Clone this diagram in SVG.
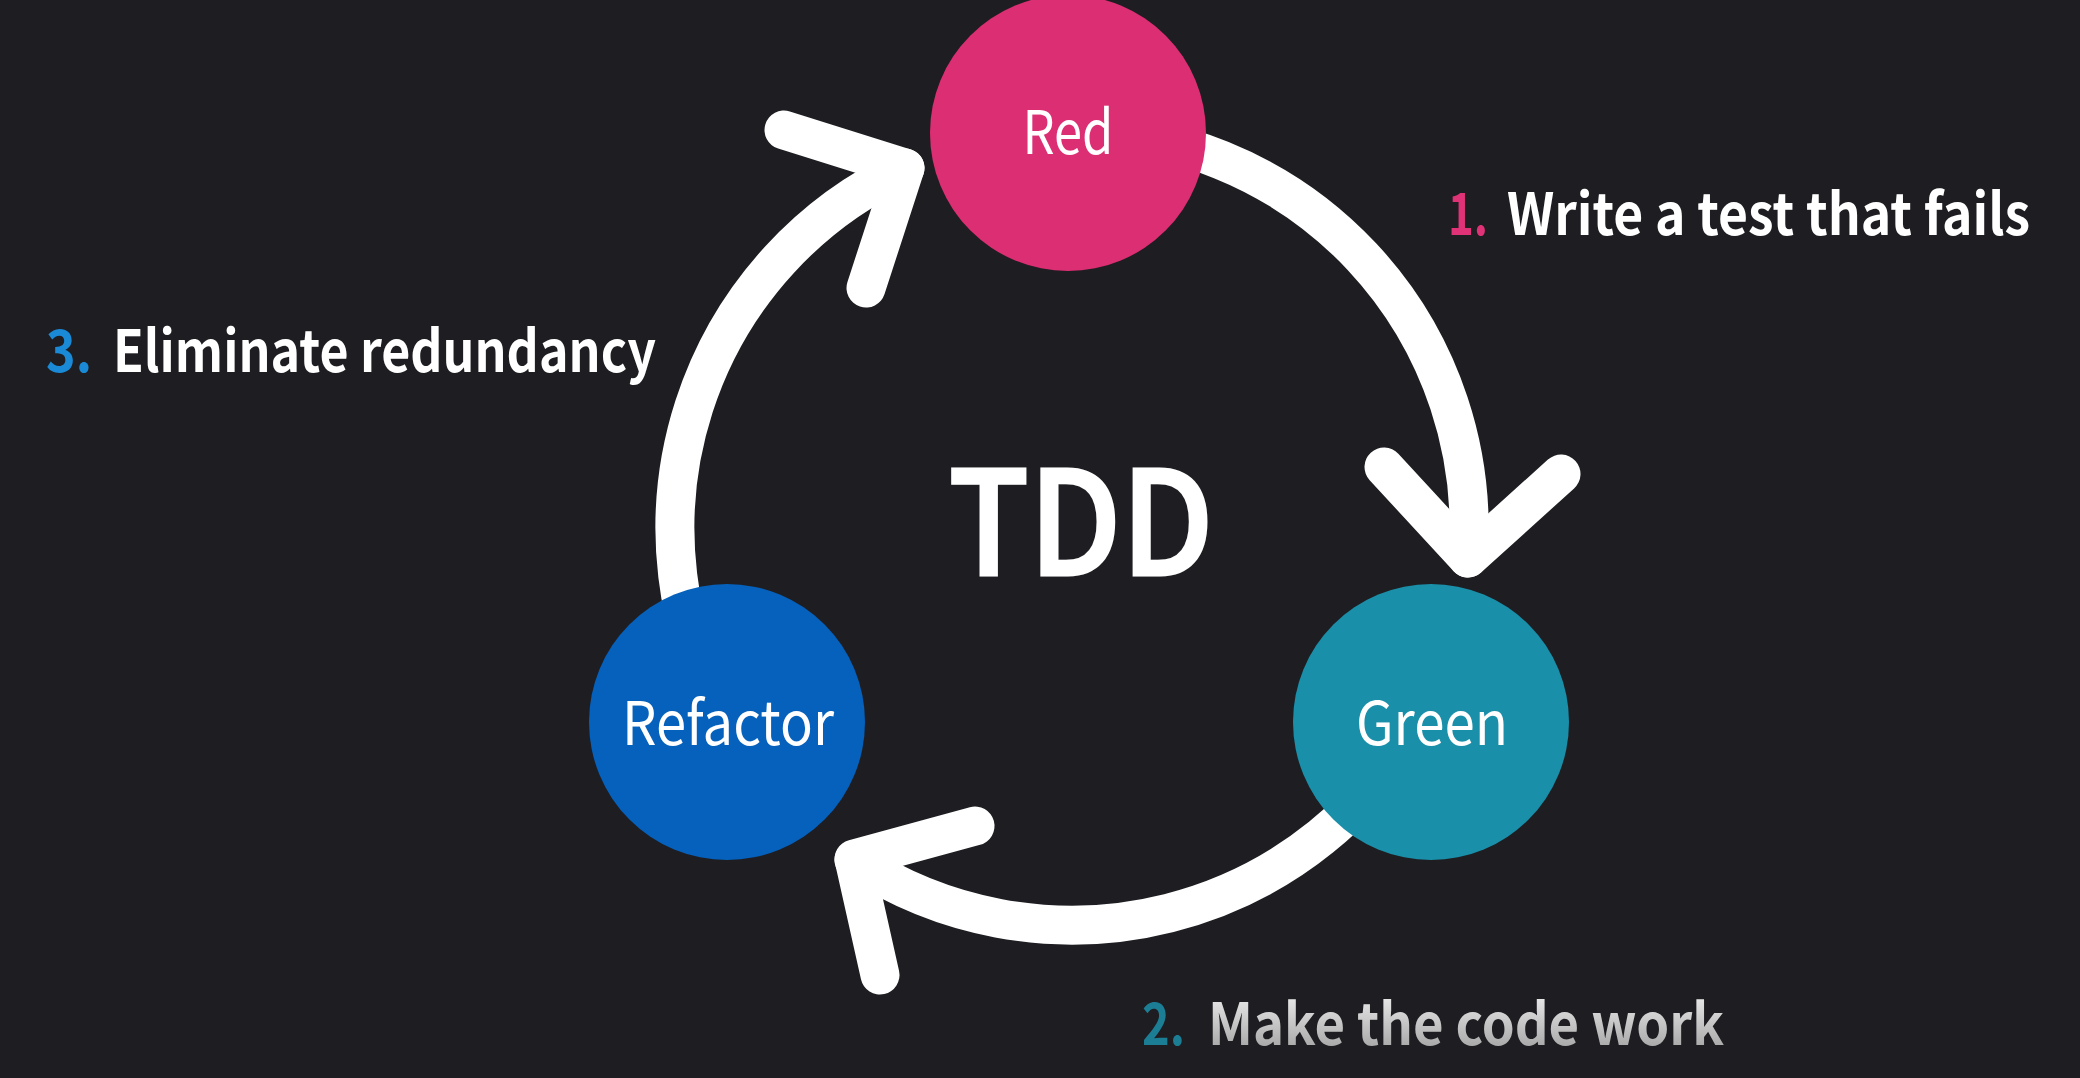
<svg xmlns="http://www.w3.org/2000/svg" width="2080" height="1078" viewBox="0 0 2080 1078">
  <defs>
    <style>
      .arc { fill: none; stroke: #ffffff; stroke-width: 39; stroke-linecap: round; stroke-linejoin: round; }
      .lbl { font-family: "Noto Sans CJK KR", "Noto Sans", sans-serif; fill: #ffffff; font-size: 60px; }
      .step { font-family: "Noto Sans CJK KR", "Noto Sans", sans-serif; font-weight: 700; font-size: 58px; fill: #ffffff; }
    </style>
    <linearGradient id="grayText" x1="0" y1="998" x2="0" y2="1048" gradientUnits="userSpaceOnUse">
      <stop offset="0" stop-color="#e6e6e6"/>
      <stop offset="1" stop-color="#a8a8a8"/>
    </linearGradient>
  </defs>
  <rect width="2080" height="1078" fill="#1e1d22"/>

  <g id="connectors">
    <path class="arc" d="M 1068 131 A 397 397 0 0 1 1468 558"/>
    <path class="arc" d="M 1384 467 L 1468 558 L 1561 474"/>
    <path class="arc" d="M 1421 717 A 397 397 0 0 1 854 860"/>
    <path class="arc" d="M 975 826 L 854 859 L 880 975"/>
    <path class="arc" d="M 726 723 A 397 397 0 0 1 905 168"/>
    <path class="arc" d="M 784 130 L 905 168 L 866 288"/>
  </g>

  <g id="node-red">
    <circle cx="1068" cy="133" r="138" fill="#dc2e73"/>
    <text class="lbl" x="1068" y="154" text-anchor="middle" textLength="91" lengthAdjust="spacingAndGlyphs">Red</text>
  </g>
  <g id="node-green">
    <circle cx="1431" cy="722" r="138" fill="#1a8fa9"/>
    <text class="lbl" x="1432" y="745" text-anchor="middle" textLength="152" lengthAdjust="spacingAndGlyphs">Green</text>
  </g>
  <g id="node-refactor">
    <circle cx="727" cy="722" r="138" fill="#0561bb"/>
    <text class="lbl" x="728" y="745" text-anchor="middle" textLength="212" lengthAdjust="spacingAndGlyphs">Refactor</text>
  </g>

  <g id="title">
    <text x="1081" y="575" text-anchor="middle" font-family="Noto Sans CJK KR, Noto Sans, sans-serif" font-weight="500" font-size="144" fill="#ffffff" stroke="#ffffff" stroke-width="3" textLength="265" lengthAdjust="spacingAndGlyphs">TDD</text>
  </g>

  <g id="step-1">
    <text class="step" x="1448" y="235" textLength="40" lengthAdjust="spacingAndGlyphs" style="fill:#e03276">1.</text>
    <text class="step" x="2030" y="235" text-anchor="end" textLength="523" lengthAdjust="spacingAndGlyphs">Write a test that fails</text>
  </g>
  <g id="step-2">
    <text class="step" x="1142" y="1045" textLength="43" lengthAdjust="spacingAndGlyphs" style="fill:#1c7e94">2.</text>
    <text class="step" x="1208" y="1045" textLength="516" lengthAdjust="spacingAndGlyphs" style="fill:url(#grayText)">Make the code work</text>
  </g>
  <g id="step-3">
    <text class="step" x="46" y="372" textLength="46" lengthAdjust="spacingAndGlyphs" style="fill:#1a8ad6">3.</text>
    <text class="step" x="113" y="372" textLength="543" lengthAdjust="spacingAndGlyphs">Eliminate redundancy</text>
  </g>
</svg>
